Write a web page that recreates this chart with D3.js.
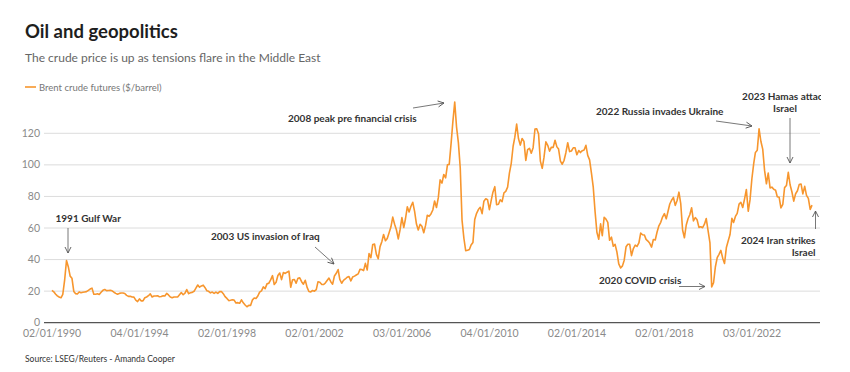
<!DOCTYPE html>
<html>
<head>
<meta charset="utf-8">
<script src="https://cdn.jsdelivr.net/npm/d3@7"></script>
<style>
  body { margin: 0; background: #fff; font-family: Lato, "Noto Sans", sans-serif; }
  #chart { width: 850px; height: 372px; }
  .gridLine { stroke: #dcdcdc; stroke-width: 1; }
  .baseLine { stroke: #555; stroke-width: 1.3; }
  .tickLabel { fill: #8a8a8a; font-size: 10.5px; }
  .annotation { fill: #333; font-size: 10px; font-weight: 700; }
  .arrow { stroke: #555; stroke-width: 0.8; fill: none; }
</style>
</head>
<body>
<div id="chart"></div>
<script>
// Brent crude futures, monthly ($/barrel), Jan 1990 onwards
const firstMonth = new Date(1990, 0, 1);
const brent1990s = [
  20.5, 19.6, 18.2, 17.0, 16.3, 15.8, 17.9, 27.0, 39.4, 35.5, 29.5, 28.2,
  19.8, 18.4, 18.2, 19.5, 19.0, 19.3, 19.5, 19.7, 20.5, 21.3, 21.9, 18.0,
  18.0, 18.3, 17.9, 19.3, 20.5, 21.0, 20.3, 20.4, 20.5, 20.2, 19.3, 18.6,
  18.0, 18.6, 18.8, 18.8, 18.5, 17.3, 16.7, 16.8, 16.3, 16.2, 14.3, 13.4,
  15.1, 13.8, 13.8, 15.8, 16.3, 17.1, 18.3, 16.3, 16.9, 16.9, 17.1, 16.4,
  16.6, 17.1, 16.9, 18.6, 17.6, 16.3, 15.8, 16.3, 16.3, 16.3, 17.7, 19.1,
  17.7, 18.7, 21.0, 18.4, 19.0, 19.2, 19.9, 21.9, 23.9, 22.5, 23.3, 23.8,
  22.2, 20.2, 19.9, 18.9, 19.4, 18.6, 19.4, 18.6, 19.7, 19.8, 18.4, 16.5,
  15.4, 14.0, 14.2, 14.5, 14.3, 12.5, 12.7, 12.3, 14.5, 12.6, 11.2, 10.1,
  11.0, 11.0, 14.3, 15.6, 15.3, 16.9, 19.4, 20.2, 22.7, 21.6, 24.6, 25.0
];
const brent2000s = [
  27.1, 29.8, 24.2, 25.6, 29.9, 31.5, 27.3, 31.8, 31.2, 32.0, 32.7, 22.5,
  27.2, 27.4, 25.0, 28.2, 28.4, 26.0, 24.4, 26.9, 22.4, 19.8, 19.5, 20.4,
  20.0, 21.0, 25.9, 25.6, 24.3, 24.2, 25.1, 26.7, 28.3, 26.0, 24.4, 29.6,
  31.3, 33.7, 27.4, 25.0, 26.8, 27.7, 28.8, 29.3, 26.5, 28.9, 29.5, 30.2,
  30.9, 33.8, 33.7, 33.0, 37.6, 33.4, 43.8, 41.2, 49.6, 49.8, 43.3, 40.5,
  48.2, 51.5, 55.9, 51.9, 53.4, 57.0, 60.6, 66.9, 62.4, 58.9, 53.1, 58.9,
  66.6, 60.3, 65.7, 73.4, 70.2, 73.8, 76.3, 70.5, 62.5, 58.7, 62.4, 61.1,
  57.0, 61.8, 68.1, 67.4, 68.9, 71.4, 77.1, 73.0, 79.2, 90.5, 88.4, 93.9,
  91.8, 100.1, 100.3, 113.5, 127.4, 139.8, 124.1, 114.1, 98.2, 65.0, 53.5, 45.6,
  45.9, 46.4, 49.2, 50.8, 65.4, 69.3, 71.7, 73.1, 69.1, 77.0, 78.5, 77.9
];
const brent2010s = [
  71.6, 77.6, 82.7, 86.2, 74.8, 75.0, 77.9, 76.7, 82.3, 83.2, 85.9, 94.8,
  101.0, 111.8, 117.4, 125.9, 116.7, 112.5, 116.7, 114.9, 102.8, 109.6, 110.5, 107.4,
  110.9, 122.7, 122.9, 119.5, 102.4, 97.8, 104.9, 114.6, 112.4, 108.7, 111.2, 111.1,
  115.6, 111.4, 110.0, 102.4, 100.4, 102.9, 107.7, 114.0, 108.4, 108.8, 110.8, 110.8,
  106.4, 109.1, 107.8, 109.0, 109.4, 112.4, 106.0, 103.2, 94.7, 85.9, 70.2, 57.3,
  52.9, 62.6, 55.1, 66.8, 65.6, 63.6, 52.2, 54.2, 48.4, 49.6, 44.6, 37.3,
  34.7, 36.0, 39.6, 48.1, 49.7, 49.7, 42.5, 47.0, 49.1, 48.3, 50.5, 56.8,
  55.7, 55.6, 52.8, 51.7, 50.3, 47.9, 52.7, 52.4, 57.5, 61.4, 63.6, 66.9,
  69.1, 65.8, 70.3, 75.2, 77.6, 79.4, 74.3, 77.4, 82.7, 75.5, 58.7, 53.8,
  61.9, 66.0, 68.4, 72.8, 64.5, 66.6, 65.2, 60.4, 60.8, 60.2, 62.4, 66.0
];
const brent2020s = [
  58.2, 50.5, 22.7, 25.3, 35.3, 41.2, 43.3, 45.8, 40.9, 37.5, 47.6, 51.8,
  55.9, 66.1, 63.5, 67.3, 69.3, 75.1, 76.3, 73.0, 78.5, 84.4, 70.6, 77.8,
  91.2, 101.0, 107.9, 109.3, 122.8, 114.8, 110.0, 96.5, 88.0, 94.8, 85.4, 85.9,
  84.5, 83.9, 79.8, 79.5, 72.7, 74.9, 85.6, 86.9, 95.3, 87.4, 82.8, 77.0,
  81.7, 83.6, 87.5, 87.9, 81.6, 86.4, 80.7, 78.8, 71.8, 74.5
];

const xTickDates = ["02/01/1990", "04/01/1994", "02/01/1998", "02/01/2002",
  "03/01/2006", "04/01/2010", "02/01/2014", "02/01/2018", "03/01/2022"];
const yTicks = [0, 20, 40, 60, 80, 100, 120];

const annotationTexts = [
  ["1991 Gulf War"],
  ["2003 US invasion of Iraq"],
  ["2008 peak pre financial crisis"],
  ["2022 Russia invades Ukraine"],
  ["2023 Hamas attack", "Israel"],
  ["2024 Iran strikes", "Israel"],
  ["2020 COVID crisis"]
];

const parseTick = d3.timeParse("%d/%m/%Y");
const formatTick = d3.timeFormat("%d/%m/%Y");

const prices = [].concat(brent1990s, brent2000s, brent2010s, brent2020s);
const data = prices.map((v, i) => ({ date: d3.timeMonth.offset(firstMonth, i), value: v }));

const svgWidth = 821, svgHeight = 372;
const plotLeft = 44, plotRight = 820;

const svg = d3.select("#chart").append("svg")
  .attr("width", svgWidth)
  .attr("height", svgHeight)
  .style("overflow", "hidden");

const x = d3.scaleTime()
  .domain([parseTick("02/01/1990"), parseTick("03/01/2022")])
  .range([52, 752]);
const y = d3.scaleLinear()
  .domain([0, 120])
  .range([322.7, 133.3]);

// header
svg.append("text").attr("x", 25).attr("y", 37.5)
  .style("font-size", "18.5px").style("font-weight", 700).style("fill", "#1e1e1e")
  .text("Oil and geopolitics");
svg.append("text").attr("x", 25).attr("y", 62)
  .style("font-size", "12px").style("fill", "#666")
  .text("The crude price is up as tensions flare in the Middle East");

// legend
svg.append("line").attr("x1", 25).attr("x2", 36).attr("y1", 87).attr("y2", 87)
  .style("stroke", "#f7962e").style("stroke-width", 1.6);
svg.append("text").attr("x", 39).attr("y", 90.5)
  .style("font-size", "9.5px").style("fill", "#777")
  .text("Brent crude futures ($/barrel)");

// grid + y labels
const grid = svg.append("g");
grid.selectAll("line").data(yTicks.filter((d) => d > 0)).enter().append("line")
  .attr("class", "gridLine")
  .attr("x1", plotLeft).attr("x2", plotRight)
  .attr("y1", (d) => y(d)).attr("y2", (d) => y(d));
grid.selectAll("text").data(yTicks).enter().append("text")
  .attr("class", "tickLabel")
  .attr("x", 40).attr("y", (d) => y(d)).attr("dy", "0.34em")
  .style("text-anchor", "end")
  .text((d) => d);

// x axis
svg.append("line").attr("class", "baseLine")
  .attr("x1", plotLeft).attr("x2", plotRight)
  .attr("y1", y(0)).attr("y2", y(0));
svg.append("g").selectAll("text").data(xTickDates.map(parseTick)).enter().append("text")
  .attr("class", "tickLabel")
  .attr("x", (d) => x(d)).attr("y", 337)
  .style("text-anchor", "middle")
  .text((d) => formatTick(d));

// price line
const line = d3.line().x((d) => x(d.date)).y((d) => y(d.value));
svg.append("path").datum(data)
  .attr("d", line)
  .style("fill", "none")
  .style("stroke", "#f7962e")
  .style("stroke-width", 1.6)
  .style("stroke-linejoin", "round");

// arrowhead
svg.append("defs").append("marker")
  .attr("id", "arrowHead")
  .attr("viewBox", "0 0 8 8")
  .attr("refX", 7).attr("refY", 4)
  .attr("markerWidth", 8).attr("markerHeight", 8)
  .attr("markerUnits", "userSpaceOnUse")
  .attr("orient", "auto")
  .append("path")
  .attr("d", "M1,1 L7,4 L1,7")
  .style("fill", "none").style("stroke", "#555").style("stroke-width", 0.9);

// annotation layout: text position, anchor and arrow
const annotationLayout = [
  { tx: 55.5, ty: 221.5, anchor: "start", arrow: [68, 228, 68, 253] },
  { tx: 211, ty: 240, anchor: "start", arrow: [315, 247, 334, 264] },
  { tx: 288, ty: 121.5, anchor: "start", arrow: [413, 108, 444, 103] },
  { tx: 596, ty: 115, anchor: "start", arrow: [716, 121, 752, 126] },
  { tx: 785, ty: 100, anchor: "middle", arrow: [790, 118, 790, 163] },
  { tx: 815.5, ty: 243.5, anchor: "end", arrow: [815.5, 229, 815.5, 211] },
  { tx: 599, ty: 283.5, anchor: "start", arrow: [679, 286.5, 705, 286.5] }
];

const notes = svg.append("g");
annotationTexts.forEach((lines, i) => {
  const l = annotationLayout[i];
  const t = notes.append("text").attr("class", "annotation")
    .attr("x", l.tx).attr("y", l.ty)
    .style("text-anchor", l.anchor);
  lines.forEach((s, j) => {
    t.append("tspan").attr("x", l.tx).attr("dy", j === 0 ? 0 : 12).text(s);
  });
  notes.append("line").attr("class", "arrow")
    .attr("x1", l.arrow[0]).attr("y1", l.arrow[1])
    .attr("x2", l.arrow[2]).attr("y2", l.arrow[3])
    .attr("marker-end", "url(#arrowHead)");
});

// source
svg.append("text").attr("x", 25).attr("y", 362)
  .style("font-size", "8.5px").style("fill", "#333")
  .text("Source: LSEG/Reuters - Amanda Cooper");
</script>
</body>
</html>
